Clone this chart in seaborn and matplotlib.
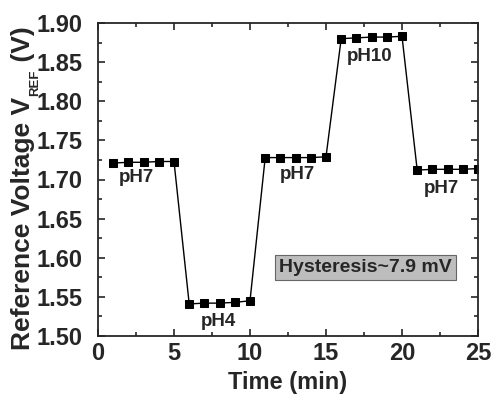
import numpy as np
import pandas as pd
import matplotlib
matplotlib.use("Agg")
import matplotlib.pyplot as plt
import seaborn as sns
from matplotlib.ticker import MultipleLocator, FormatStrFormatter

# data
time_min = [1, 2, 3, 4, 5, 6, 7, 8, 9, 10, 11, 12, 13, 14, 15,
            16, 17, 18, 19, 20, 21, 22, 23, 24, 25]
v_ref = [1.721, 1.722, 1.722, 1.723, 1.723,
         1.541, 1.542, 1.542, 1.543, 1.545,
         1.728, 1.728, 1.728, 1.728, 1.729,
         1.880, 1.881, 1.882, 1.882, 1.883,
         1.712, 1.713, 1.713, 1.713, 1.714]
ph_labels = ["pH7", "pH4", "pH7", "pH10", "pH7"]
ph_label_x = [2.5, 7.9, 13.1, 17.9, 22.6]
ph_label_y = [1.702, 1.518, 1.706, 1.857, 1.688]

df = pd.DataFrame({"time": time_min, "v": v_ref})

sns.set_style("ticks")
plt.rcParams['font.family'] = ['Liberation Sans', 'DejaVu Sans']
plt.rcParams['font.weight'] = 'bold'
plt.rcParams['axes.labelweight'] = 'bold'

W, H = 494, 397
fig = plt.figure(figsize=(W / 100, H / 100), dpi=100)
ax = fig.add_axes([98 / W, 1 - 336 / H, 380 / W, 313 / H])

sns.lineplot(data=df, x="time", y="v", color="black", linewidth=1.0,
             marker="s", markersize=5.8, markeredgecolor="black", ax=ax)

for lab, lx, ly in zip(ph_labels, ph_label_x, ph_label_y):
    ax.text(lx, ly, lab, ha="center", va="center", fontsize=13.5, fontweight="bold")

ax.text(17.6, 1.588, "Hysteresis~7.9 mV", ha="center", va="center",
        fontsize=14, fontweight="bold",
        bbox=dict(boxstyle="square,pad=0.2", facecolor="#bdbdbd",
                  edgecolor="#666666", linewidth=0.8))

ax.set_xlim(0, 25)
ax.set_ylim(1.50, 1.90)
ax.xaxis.set_major_locator(MultipleLocator(5))
ax.xaxis.set_minor_locator(MultipleLocator(2.5))
ax.yaxis.set_major_locator(MultipleLocator(0.05))
ax.yaxis.set_minor_locator(MultipleLocator(0.025))
ax.yaxis.set_major_formatter(FormatStrFormatter("%.2f"))
ax.tick_params(which="both", direction="in", top=True, right=True,
               labelsize=17, width=1.2)
ax.tick_params(which="major", length=5)
ax.tick_params(which="minor", length=3)
ax.tick_params(axis="y", which="major", pad=11)
ax.tick_params(axis="x", which="major", pad=4)
for s in ax.spines.values():
    s.set_linewidth(1.3)

ax.set_xlabel("Time (min)", fontsize=17, fontweight="bold", labelpad=5)
ax.set_ylabel("")

# y label built from pieces so the subscript can be small
fig.canvas.draw()
renderer = fig.canvas.get_renderer()
base_x = 30 / W
t1 = fig.text(base_x, 47 / H, "Reference Voltage V", rotation=90,
              rotation_mode="anchor", ha="left", va="baseline",
              fontsize=19, fontweight="bold")
y_end = t1.get_window_extent(renderer).y1 / H
t2 = fig.text(38 / W, y_end + 1 / H, "REF", rotation=90,
              rotation_mode="anchor", ha="left", va="baseline",
              fontsize=9.5, fontweight="bold")
y_end2 = t2.get_window_extent(renderer).y1 / H
fig.text(base_x, y_end2, " (V)", rotation=90,
         rotation_mode="anchor", ha="left", va="baseline",
         fontsize=19, fontweight="bold")

fig.savefig("out.png", dpi=100)
